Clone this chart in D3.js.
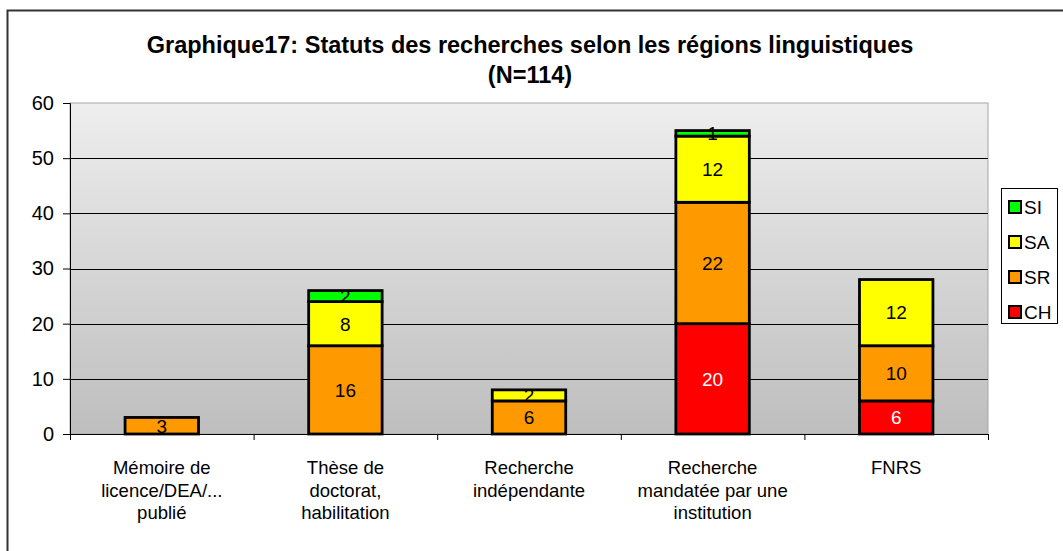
<!DOCTYPE html>
<html>
<head>
<meta charset="utf-8">
<script src="https://cdn.jsdelivr.net/npm/d3@7"></script>
<style>
  body { margin: 0; background: #fff; }
  svg { font-family: "Liberation Sans", Arial, sans-serif; }
</style>
</head>
<body>
<div class="chart"></div>
<script>
(function () {
  var categories = [
    ['Mémoire de', 'licence/DEA/...', 'publié'],
    ['Thèse de', 'doctorat,', 'habilitation'],
    ['Recherche', 'indépendante'],
    ['Recherche', 'mandatée par une', 'institution'],
    ['FNRS']
  ];
  var seriesNames = ['CH', 'SR', 'SA', 'SI'];
  var CH = [0, 0, 0, 20, 6];
  var SR = [3, 16, 6, 22, 10];
  var SA = [0, 8, 2, 12, 12];
  var SI = [0, 2, 0, 1, 0];
  var yTicks = [0, 10, 20, 30, 40, 50, 60];
  var colors = { CH: '#ff0000', SR: '#ff9900', SA: '#ffff00', SI: '#00ff00' };
  var labelColors = { CH: '#fff', SR: '#000', SA: '#000', SI: '#000' };

  var rows = categories.map(function (c, i) {
    return { key: i, CH: CH[i], SR: SR[i], SA: SA[i], SI: SI[i] };
  });
  var stacked = d3.stack().keys(seriesNames)(rows);

  var svg = d3.select('.chart').append('svg')
    .attr('width', 1063)
    .attr('height', 551);

  // outer frame
  svg.append('rect')
    .attr('x', 7.5)
    .attr('y', 10.5)
    .attr('width', 1100)
    .attr('height', 600)
    .attr('fill', 'none')
    .attr('stroke', '#333')
    .attr('stroke-width', 2);

  var margin = {top: 103, left: 70};
  var width = 918, height = 331;
  var g = svg.append('g').attr('transform', 'translate(' + margin.left + ',' + margin.top + ')');

  var x = d3.scaleBand()
    .domain(d3.range(categories.length))
    .range([0, width])
    .paddingInner(0.6)
    .paddingOuter(0.3);
  var xb = d3.scaleLinear().domain([0, categories.length]).range([0, width]);
  var y = d3.scaleLinear()
    .domain([0, 60])
    .range([height, 0]);

  // background gradient
  var grad = svg.append('defs').append('linearGradient')
    .attr('id', 'bg')
    .attr('x1', 0).attr('y1', 0).attr('x2', 0).attr('y2', 1);
  grad.append('stop').attr('offset', '0%').attr('stop-color', '#eeeeee');
  grad.append('stop').attr('offset', '100%').attr('stop-color', '#bebebe');

  g.append('rect')
    .attr('width', width)
    .attr('height', height)
    .attr('fill', 'url(#bg)')
    .attr('stroke', '#a6a6a6')
    .attr('stroke-width', 1);

  // grid
  g.append('g')
      .attr('class', 'grid')
    .selectAll('line')
    .data(yTicks.filter(function (d) { return d > 0 && d < 60; }))
    .enter().append('line')
      .attr('x1', 0)
      .attr('x2', width)
      .attr('y1', function (d) { return Math.round(y(d)) + 0.5; })
      .attr('y2', function (d) { return Math.round(y(d)) + 0.5; })
      .attr('stroke', '#000')
      .attr('stroke-width', 1);

  // axes
  var axisLeft = d3.axisLeft(y)
    .tickValues(yTicks)
    .tickSizeOuter(0)
    .tickSize(7)
    .tickPadding(9);
  var ay = g.append('g').attr('class', 'axis axis--y').call(axisLeft);
  ay.select('.domain').attr('stroke', '#000');
  ay.selectAll('text').attr('font-size', '20px').attr('fill', '#000').attr('font-family', 'Liberation Sans, Arial, sans-serif');

  var axisBottom = d3.axisBottom(xb)
    .tickValues(d3.range(categories.length + 1))
    .tickSize(6)
    .tickSizeOuter(0)
    .tickFormat('');
  var ax = g.append('g')
    .attr('class', 'axis axis--x')
    .attr('transform', 'translate(0,' + height + ')')
    .call(axisBottom);
  ax.select('.domain').attr('stroke', '#000');

  // category labels
  var cat = g.append('g').attr('class', 'cat-labels')
    .selectAll('text')
    .data(categories)
    .enter().append('text')
      .attr('x', function (d, i) { return x(i) + x.bandwidth() / 2; })
      .attr('y', height + 40)
      .attr('text-anchor', 'middle')
      .attr('font-size', '18.5px')
      .attr('fill', '#000');
  cat.selectAll('tspan')
    .data(function (d) { return d; })
    .enter().append('tspan')
      .attr('x', function () { return this.parentNode.getAttribute('x'); })
      .attr('dy', function (d, i) { return i === 0 ? 0 : 22.5; })
      .text(function (d) { return d; });

  // bars
  var layer = g.selectAll('.layer')
    .data(stacked)
    .enter().append('g')
      .attr('class', 'layer')
      .attr('fill', function (d) { return colors[d.key]; });

  layer.selectAll('rect')
    .data(function (d) { return d.filter(function (p) { return p[1] - p[0] > 0; }); })
    .enter().append('rect')
      .attr('x', function (d) { return x(d.data.key); })
      .attr('y', function (d) { return y(d[1]); })
      .attr('width', x.bandwidth())
      .attr('height', function (d) { return y(d[0]) - y(d[1]); })
      .attr('stroke', '#000')
      .attr('stroke-width', 2.8);

  layer.selectAll('text')
    .data(function (d) {
      return d.filter(function (p) { return p[1] - p[0] > 0; })
        .map(function (p) { return { p: p, key: d.key }; });
    })
    .enter().append('text')
      .attr('x', function (d) { return x(d.p.data.key) + x.bandwidth() / 2; })
      .attr('y', function (d) { return y((d.p[0] + d.p[1]) / 2); })
      .attr('dy', '0.36em')
      .attr('text-anchor', 'middle')
      .attr('font-size', '19px')
      .attr('fill', function (d) { return labelColors[d.key]; })
      .text(function (d) { return d.p[1] - d.p[0]; });

  // title
  svg.append('text')
    .attr('x', 530)
    .attr('y', 53)
    .attr('text-anchor', 'middle')
    .attr('font-size', '23.5px')
    .attr('font-weight', 'bold')
    .text('Graphique17: Statuts des recherches selon les régions linguistiques');
  svg.append('text')
    .attr('x', 530)
    .attr('y', 83)
    .attr('text-anchor', 'middle')
    .attr('font-size', '23.5px')
    .attr('font-weight', 'bold')
    .text('(N=114)');

  // legend
  var legend = svg.append('g').attr('transform', 'translate(1001,188)');
  legend.append('rect')
    .attr('x', 0.5)
    .attr('y', 0.5)
    .attr('width', 56)
    .attr('height', 135)
    .attr('fill', '#fff')
    .attr('stroke', '#000');
  var item = legend.selectAll('.item')
    .data(seriesNames.slice().reverse())
    .enter().append('g')
      .attr('class', 'item')
      .attr('transform', function (d, i) { return 'translate(8,' + (19 + i * 35) + ')'; });
  item.append('rect')
    .attr('x', 0)
    .attr('y', -6)
    .attr('width', 12)
    .attr('height', 12)
    .attr('fill', function (d) { return colors[d]; })
    .attr('stroke', '#000')
    .attr('stroke-width', 2);
  item.append('text')
    .attr('x', 15)
    .attr('dy', '0.36em')
    .attr('font-size', '19px')
    .text(function (d) { return d; });
})();
</script>
</body>
</html>
